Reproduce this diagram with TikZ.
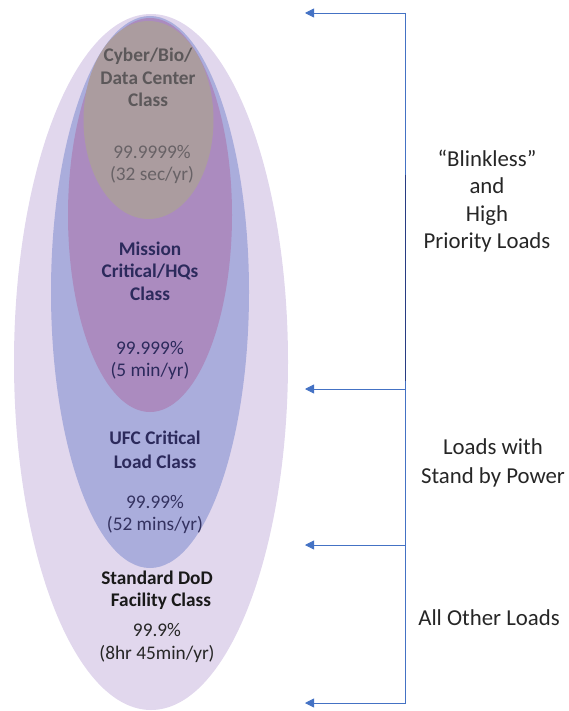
\documentclass[tikz,border=0pt]{standalone}
\usepackage{fontspec}
\setmainfont{Carlito}
\usetikzlibrary{arrows.meta}
\definecolor{outerc}{RGB}{225,215,237}
\definecolor{bluec}{RGB}{170,173,220}
\definecolor{purpc}{RGB}{171,139,191}
\definecolor{brownc}{RGB}{171,156,159}
\definecolor{arrowc}{RGB}{68,114,196}
\definecolor{darkline}{RGB}{40,60,130}
\definecolor{navytxt}{RGB}{44,42,92}
\definecolor{graytxt}{RGB}{92,88,90}
\definecolor{graypct}{RGB}{104,98,102}
\tikzset{
  inlbl/.style={inner sep=0pt, align=center, font=\fontsize{19.3}{22.5}\selectfont},
  outlbl/.style={inner sep=0pt, align=center, text=black!85, font=\fontsize{22.8}{27.5}\selectfont},
  brk/.style={draw=arrowc, line width=0.8pt},
  arr/.style={brk, -{Triangle[length=9pt,width=9pt]}}
}
\begin{document}
\begin{tikzpicture}[x=1pt,y=-1pt]
\useasboundingbox (0,0) rectangle (568,711);
% ellipses
\fill[outerc] (151,362) ellipse [x radius=137, y radius=348];
\fill[bluec] (150,292) ellipse [x radius=99, y radius=276];
\fill[purpc] (150,215) ellipse [x radius=82, y radius=197];
\fill[brownc] (148.5,120) ellipse [x radius=65, y radius=99];
% inner labels
\node[inlbl, text=graytxt, font=\fontsize{19.3}{22.5}\selectfont\bfseries] (cyb) at (148,77.5) {Cyber/Bio/\\Data Center\\Class};
\node[inlbl, text=graypct] (cybp) at (152,164.5) {99.9999\%\\(32 sec/yr)};
\node[inlbl, text=navytxt, font=\fontsize{19.3}{22.5}\selectfont\bfseries] (mis) at (150,271) {Mission\\Critical/HQs\\Class};
\node[inlbl, text=navytxt] (misp) at (150,360.5) {99.999\%\\(5 min/yr)};
\node[inlbl, text=navytxt, font=\fontsize{19.3}{24}\selectfont\bfseries] (ufc) at (155,449.5) {UFC Critical\\Load Class};
\node[inlbl, text=navytxt!90!gray] (ufcp) at (155,514.5) {99.99\%\\(52 mins/yr)};
\node[inlbl, text=black!90, font=\fontsize{19.3}{22.5}\selectfont\bfseries] (std) at (157,590) {Standard DoD\\\hspace*{8pt}Facility Class};
\node[inlbl, text=black!85] (stdp) at (157,643) {99.9\%\\(8hr 45min/yr)};
% bracket
\coordinate (b0) at (405.5,13);
\coordinate (b1) at (405.5,389);
\coordinate (b2) at (405.5,545);
\coordinate (b3) at (405.5,703);
\coordinate (t0) at (305,13);
\coordinate (t1) at (305,389);
\coordinate (t2) at (305,545);
\coordinate (t3) at (305,703);
\coordinate (d0) at (405.5,175);
\coordinate (d1) at (405.5,381);
\draw[brk] (b0) -- (b3);
\draw[darkline, line width=1.1pt] (d0) -- (d1);
\draw[arr] (b0) -- (t0);
\draw[arr] (b1) -- (t1);
\draw[arr] (b2) -- (t2);
\draw[arr] (b3) -- (t3);
% right labels
\node[outlbl] (blk) at (487,201) {“Blinkless”\\and\\High\\Priority Loads};
\node[outlbl, font=\fontsize{22.8}{29}\selectfont] (sby) at (493,462.5) {Loads with\\Stand by Power};
\node[outlbl] (oth) at (489,618) {All Other Loads};
\end{tikzpicture}
\end{document}
